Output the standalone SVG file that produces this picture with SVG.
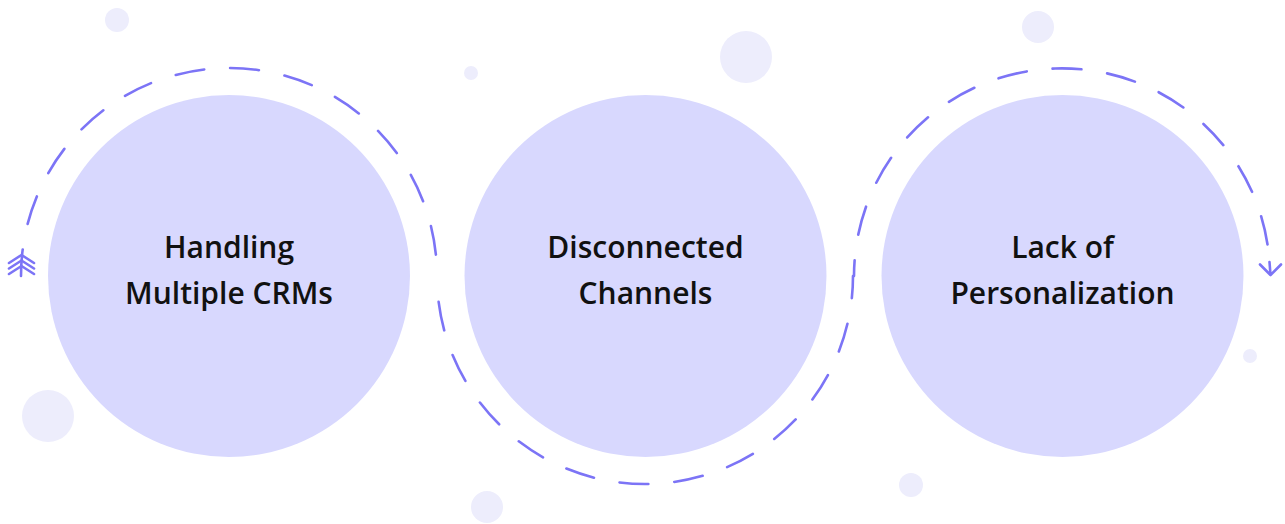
<svg xmlns="http://www.w3.org/2000/svg" width="1285" height="524" viewBox="0 0 1285 524">
<style>
.deco{fill:#ededfc}
.node{fill:#d8d8fe}
.lbl{font-family:"Open Sans","Liberation Sans",sans-serif;font-size:30px;font-weight:600;fill:#111111;text-anchor:middle}
.dash{fill:none;stroke:#7c74f6;stroke-width:2.6;stroke-linecap:round;stroke-dasharray:29 26}
.solid{fill:none;stroke:#7c74f6;stroke-width:2.6;stroke-linecap:round;stroke-linejoin:round}
</style>
<rect width="1285" height="524" fill="#ffffff"/>
<g id="decorations">
<circle class="deco" cx="117" cy="20" r="12"/>
<circle class="deco" cx="471" cy="73" r="7"/>
<circle class="deco" cx="746" cy="57" r="26"/>
<circle class="deco" cx="1038" cy="27" r="16"/>
<circle class="deco" cx="48" cy="416" r="26"/>
<circle class="deco" cx="487" cy="507" r="16"/>
<circle class="deco" cx="911" cy="485" r="12"/>
<circle class="deco" cx="1250" cy="356" r="7"/>
</g>
<g id="connectors">
<path class="dash" d="M21 276 A208 208 0 0 1 437 276" stroke-dashoffset="2.3"/>
<path class="dash" d="M437 276 A208 208 0 0 0 853 276" stroke-dashoffset="29"/>
<path class="dash" d="M854 276 A208 208 0 0 1 1269.5 262" stroke-dashoffset="13.3"/>
<path class="solid" d="M9 263 L21.5 255 L34 263 M9 268.5 L21.5 260.5 L34 268.5 M9 274 L21.5 266 L34 274"/>
<path class="solid" d="M1269.5 262 L1270.5 275 M1260 264.5 L1270.5 275 L1281 264.5"/>
</g>
<g id="node-crms">
<circle class="node" cx="229" cy="276" r="181"/>
<text class="lbl" x="229" y="258">Handling</text>
<text class="lbl" x="229" y="304">Multiple CRMs</text>
</g>
<g id="node-channels">
<circle class="node" cx="645.5" cy="276" r="181"/>
<text class="lbl" x="645.5" y="258">Disconnected</text>
<text class="lbl" x="645.5" y="304">Channels</text>
</g>
<g id="node-personalization">
<circle class="node" cx="1062.5" cy="276" r="181"/>
<text class="lbl" x="1062.5" y="258">Lack of</text>
<text class="lbl" x="1062.5" y="304">Personalization</text>
</g>
</svg>
